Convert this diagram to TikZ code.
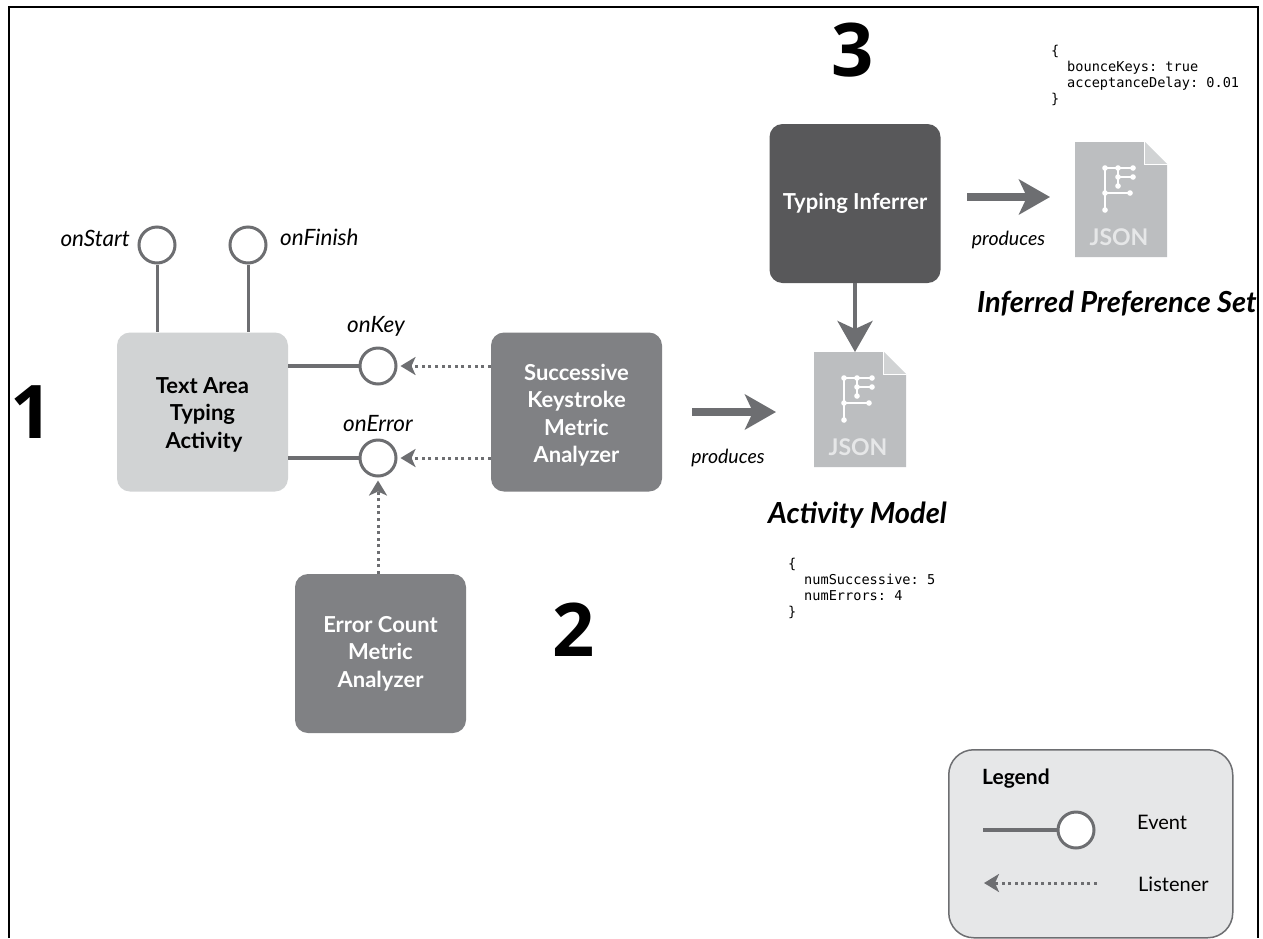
\documentclass[tikz,border=0pt]{standalone}
\usepackage{fontspec}
\setmainfont{Lato}
\setmonofont{DejaVu Sans Mono}
\newfontfamily\numfont{Open Sans}
\usetikzlibrary{arrows.meta,calc}
\definecolor{lightbox}{HTML}{D1D3D4}
\definecolor{midbox}{HTML}{808184}
\definecolor{darkbox}{HTML}{58585A}
\definecolor{linegray}{HTML}{6D6E71}
\definecolor{docgray}{HTML}{BCBEC0}
\definecolor{legendfill}{HTML}{E6E7E8}
\tikzset{
  x=1pt,y=-1pt,
  box/.style={rectangle,rounded corners=13pt,minimum width=171pt,minimum height=159pt,inner sep=0pt,align=center,font=\fontsize{22}{27.5}\selectfont\bfseries},
  evt/.style={circle,draw=linegray,line width=3pt,fill=white,minimum size=36pt,inner sep=0pt},
  evtline/.style={draw=linegray,line width=3.4pt},
  listener/.style={draw=linegray,line width=3pt,dash pattern=on 3pt off 3.6pt,-{Stealth[length=15pt,width=18pt,inset=4pt]}},
  fat/.style={draw=linegray,line width=8pt,-{Stealth[length=31pt,width=35pt,inset=8pt]}},
  evtlabel/.style={font=\fontsize{22.5}{26}\selectfont\itshape,text=black,inner sep=0pt},
  prod/.style={font=\fontsize{19.5}{22}\selectfont\itshape,inner sep=0pt},
  title/.style={font=\fontsize{29}{32}\selectfont\bfseries\itshape,inner sep=0pt},
  bignum/.style={font=\fontsize{74}{74}\selectfont\numfont\bfseries,inner sep=0pt},
  code/.style={font=\fontsize{13.6}{16}\selectfont\ttfamily,align=left,inner sep=0pt,anchor=north west},
  legtext/.style={font=\fontsize{20}{24}\selectfont,inner sep=0pt,anchor=west},
}
\newcommand{\jsondoc}[3]{%
  \node[rectangle,minimum width=92pt,minimum height=115pt,inner sep=0pt,anchor=north west] (#1) at (#2,#3) {};
  \begin{scope}[shift={(#2,#3)}]
    \fill[docgray] (0,0)--(69,0)--(92,23)--(92,115)--(0,115)--cycle;
    \fill[lightbox] (70,0)--(92,22)--(70,22)--cycle;
    \draw[white,line width=1pt] (69.5,0)--(69.5,22.5)--(92,22.5);
    \draw[white,line width=1.1pt] (30,26)--(30,68) (30,26)--(58,26) (43,26)--(43,44) (43,35)--(58,35) (30,51)--(55,51);
    \foreach \px/\py in {30/26,43/26,58/26,43/35,58/35,43/44,30/51,55/51,30/68}
      \fill[white] (\px,\py) circle[radius=2.8];
    \node[text=legendfill,font=\fontsize{23}{26}\selectfont\bfseries,inner sep=0pt] (#1label) at (44,95) {JSON};
  \end{scope}}
\begin{document}
\begin{tikzpicture}
\useasboundingbox (0,0) rectangle (1263,938);
\clip (0,0) rectangle (1263,938);
\fill[white] (0,0) rectangle (1263,938);
\draw[black,line width=2.5pt] (9,938)--(9,7)--(1258,7)--(1258,938);

% boxes
\node[box,fill=lightbox,text=black] (ta) at (202.5,412) {\rule{0pt}{21pt}Text Area\\Typing\\\hspace*{3pt}Activity};
\node[box,fill=midbox,text=white] (ska) at (576.5,412) {\rule{0pt}{23pt}Successive\\Keystroke\\Metric\\Analyzer};
\node[box,fill=midbox,text=white] (eca) at (380.5,653.5) {Error Count\\Metric\\Analyzer};
\node[box,fill=darkbox,text=white] (inf) at (855,203.5) {\raisebox{3pt}{Typing Inferrer}};

% events
\node[evt] (start) at (157,245) {};
\node[evt] (finish) at (248,245) {};
\node[evt] (key) at (378,366) {};
\node[evt] (err) at (378,458) {};
\draw[evtline,line width=3pt] (start) -- (start |- ta.north);
\draw[evtline,line width=3pt] (finish) -- (finish |- ta.north);
\draw[evtline] (key -| ta.east) -- (key);
\draw[evtline] (err -| ta.east) -- (err);
\node[evtlabel,anchor=east] (lstart) at (130,238) {onStart};
\node[evtlabel,anchor=west] (lfinish) at (280,237) {onFinish};
\node[evtlabel] (lkey) at (376,326) {onKey};
\node[evtlabel] (lerr) at (378,424) {onError};

% listeners
\draw[listener] (key -| ska.west) -- ([xshift=3pt]key.east);
\draw[listener] (err -| ska.west) -- ([xshift=3pt]err.east);
\draw[listener] (err |- eca.north) -- ([yshift=-3pt]err.south);

% documents
\jsondoc{modeldoc}{814}{352}
\jsondoc{prefdoc}{1075}{142}
\coordinate (p1s) at (692,412);
\coordinate (p1e) at (776,412);
\coordinate (p2s) at (967,197);
\coordinate (p2e) at (1050,197);
\draw[fat] (p1s) -- (p1e);
\draw[fat] (p2s) -- (p2e);
\draw[linegray,line width=4pt,-{Stealth[length=31pt,width=35pt,inset=8pt]}] (inf.south) -- (inf.south |- modeldoc.north);
\node[prod] (prod1) at (728,458) {produces};
\node[prod] (prod2) at (1008.5,240) {produces};
\node[title,anchor=west] (am) at (768,515) {Activity Model};
\node[title,anchor=west] (ips) at (977,304) {Inferred Preference Set};

% code
\node[code] (c1) at (788,558) {\{\\\hspace*{16pt}numSuccessive: 5\\\hspace*{16pt}numErrors: 4\\\}};
\node[code] (c2) at (1051,45) {\{\\\hspace*{16pt}bounceKeys: true\\\hspace*{16pt}acceptanceDelay: 0.01\\\}};

% numbers
\node[bignum] (n1) at (32,412) {1};
\node[bignum] (n2) at (574,630) {2};
\node[bignum] (n3) at (853,50) {3};

% legend
\node[rectangle,rounded corners=25pt,draw=linegray,line width=1.5pt,fill=legendfill,minimum width=284pt,minimum height=188pt,inner sep=0pt,anchor=north west] (legend) at (948,749) {};
\node[font=\fontsize{21}{24}\selectfont\bfseries,inner sep=0pt,anchor=west] (legt) at (982,779) {Legend};
\node[evt] (legc) at (1076,830) {};
\coordinate (legl) at (983,830);
\draw[evtline] (legl) -- (legc);
\coordinate (dots) at (1097,883);
\coordinate (dote) at (984,883);
\draw[listener] (dots) -- (dote);
\node[legtext] (lege) at (1137,822) {Event};
\node[legtext] (legn) at (1138,884) {Listener};
\end{tikzpicture}
\end{document}
